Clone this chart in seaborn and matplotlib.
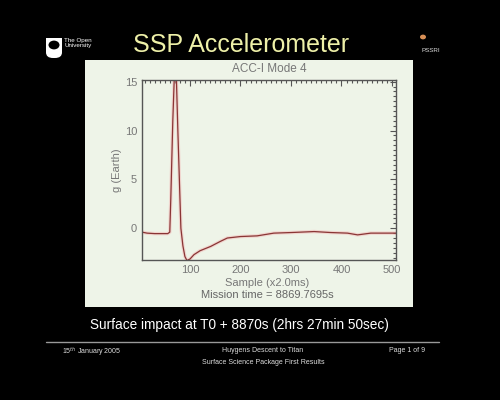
import matplotlib
matplotlib.use("Agg")
import matplotlib.pyplot as plt
import seaborn as sns
import pandas as pd
from matplotlib.patches import Rectangle, Circle, FancyBboxPatch
from matplotlib.ticker import MultipleLocator

sns.set_style("white")
plt.rcParams['font.family'] = ['Liberation Sans', 'DejaVu Sans']

# Data
sample = [5, 15, 30, 45, 56, 60, 62, 66, 69, 71, 73, 76, 79, 82, 86, 90, 94, 100,
          108, 120, 141, 160, 174, 200, 233, 266, 300, 346, 379, 412, 432, 458, 480, 508]
g_earth = [-0.4, -0.5, -0.55, -0.55, -0.55, -0.4, 3.0, 11.0, 15.5, 16.0, 15.5, 10.0, 5.0, 0.0,
           -1.8, -2.9, -3.3, -3.15, -2.7, -2.3, -1.86, -1.35, -1.0, -0.85, -0.78, -0.5, -0.44,
           -0.34, -0.44, -0.5, -0.68, -0.5, -0.5, -0.5]
x_ticks = [100, 200, 300, 400, 500]
y_ticks = [0, 5, 10, 15]

df = pd.DataFrame({"Sample": sample, "g": g_earth})

fig = plt.figure(figsize=(5, 4), dpi=100, facecolor='black')

# slide panel
panel = Rectangle((0.17, 0.2325), 0.656, 0.6175, transform=fig.transFigure,
                  facecolor='#eef4e8', edgecolor='none', zorder=-5)
fig.patches.append(panel)

ax = fig.add_axes([0.284, 0.35, 0.508, 0.45])
ax.set_zorder(2)
ax.set_facecolor('#eef4e8')
# halo
ax.plot(sample, g_earth, color='#f4b0b0', lw=2.5, alpha=0.45, zorder=1)
sns.lineplot(data=df, x="Sample", y="g", sort=False, estimator=None, ax=ax,
             color='#8a3535', lw=0.9, zorder=2)
ax.set_xlim(5, 508)
ax.set_ylim(-3.25, 15.17)
ax.set_xticks(x_ticks)
ax.set_yticks(y_ticks)
ax.xaxis.set_minor_locator(MultipleLocator(10))
ax.yaxis.set_minor_locator(MultipleLocator(0.5))
ax.tick_params(which='both', direction='in', top=True, right=True, colors='#555555',
               labelcolor='#777777', labelsize=8)
ax.tick_params(which='major', length=4, width=0.8)
ax.tick_params(which='minor', length=2, width=0.8)
for s in ax.spines.values():
    s.set_color('#555555')
    s.set_linewidth(1.0)
ax.set_xlabel("")
ax.set_ylabel("g (Earth)", color='#777777', fontsize=8)
ax.yaxis.set_label_coords(-0.08, 0.5)
ax.set_title("ACC-I Mode 4", color='#777777', fontsize=8.5, pad=6)

fig.text(0.534, 1 - 283 / 400, "Sample (x2.0ms)", color='#777777', fontsize=8,
         ha='center', va='center')
fig.text(0.534, 1 - 295 / 400, "Mission time = 8869.7695s", color='#666666', fontsize=8,
         ha='center', va='center')

# slide title
fig.text(0.482, 1 - 45 / 400, "SSP Accelerometer", color='#eef0a8', fontsize=18,
         ha='center', va='center')

# OU logo
shield = FancyBboxPatch((0.092, 1 - 58 / 400), 0.032, 0.05, transform=fig.transFigure,
                        boxstyle="round,pad=0,rounding_size=0.014", facecolor='white',
                        edgecolor='none')
fig.patches.append(shield)
fig.patches.append(Rectangle((0.092, 1 - 48 / 400), 0.032, 0.025, transform=fig.transFigure,
                             facecolor='white', edgecolor='none'))
fig.patches.append(Circle((0.108, 1 - 45 / 400), 0.011, transform=fig.transFigure,
                          facecolor='black', edgecolor='none'))
fig.text(0.129, 1 - 43 / 400, "The Open\nUniversity", color='white', fontsize=4.5,
         ha='left', va='center', linespacing=0.9)

# PSSRI logo
fig.patches.append(Circle((0.846, 1 - 37 / 400), 0.006, transform=fig.transFigure,
                          facecolor='#f0a060', edgecolor='none', alpha=0.9))
fig.text(0.862, 1 - 50 / 400, "PSSRI", color='#dddddd', fontsize=4.5,
         ha='center', va='center')

# bottom caption
fig.text(0.478, 1 - 325 / 400, "Surface impact at T0 + 8870s (2hrs 27min 50sec)",
         color='white', fontsize=9.8, ha='center', va='center')
fig.add_artist(plt.Line2D([0.092, 0.878], [1 - 342 / 400, 1 - 342 / 400],
                          transform=fig.transFigure, color='#999999', lw=1))
fig.text(0.125, 1 - 351 / 400, "15$^{th}$ January 2005", color='#dddddd', fontsize=5,
         ha='left', va='center')
fig.text(0.526, 1 - 351 / 400, "Huygens Descent to Titan", color='#dddddd', fontsize=5,
         ha='center', va='center')
fig.text(0.526, 1 - 362 / 400, "Surface Science Package First Results", color='#dddddd',
         fontsize=5, ha='center', va='center')
fig.text(0.85, 1 - 351 / 400, "Page 1 of 9", color='#dddddd', fontsize=5,
         ha='right', va='center')

fig.savefig("out.png", dpi=100, facecolor='black')
